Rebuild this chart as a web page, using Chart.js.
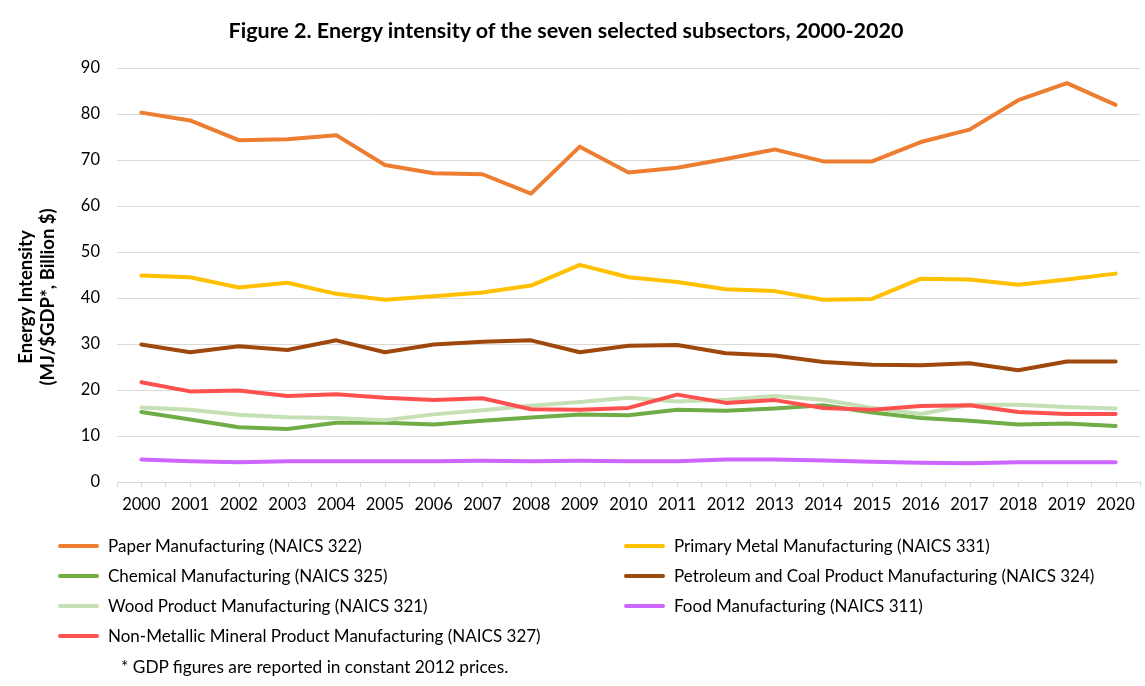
<!DOCTYPE html>
<html>
<head>
<meta charset="utf-8">
<script src="https://cdn.jsdelivr.net/npm/chart.js@4.4.0/dist/chart.umd.min.js"></script>
<style>
html,body{margin:0;padding:0;background:#fff;}
#wrap{position:relative;width:1145px;height:686px;overflow:hidden;font-family:Lato,"Open Sans",sans-serif;color:#000;}
#c{position:absolute;left:0;top:0;}
#title{position:absolute;left:0;top:16px;width:1132px;text-align:center;font-weight:bold;font-size:21.5px;line-height:28px;}
#ytitle{position:absolute;left:-114px;top:275px;width:300px;height:44px;text-align:center;font-weight:bold;font-size:18.5px;line-height:22px;transform:rotate(-90deg);white-space:nowrap;}
.li{position:absolute;height:20px;font-size:17px;line-height:20px;white-space:nowrap;}
.li span.sw{position:absolute;left:0;top:8px;width:41px;height:4px;border-radius:2px;}
.li span.tx{position:absolute;left:50px;top:0;}
#foot{position:absolute;left:121px;top:657px;font-size:17.3px;line-height:20px;white-space:nowrap;}
</style>
</head>
<body>
<div id="wrap">
<canvas id="c" width="1145" height="686"></canvas>
<div id="title">Figure 2. Energy intensity of the seven selected subsectors, 2000-2020</div>
<div id="ytitle">Energy Intensity<br>(MJ/$GDP*, Billion $)</div>
<div id="legend"></div>
<div id="foot">* GDP figures are reported in constant 2012 prices.</div>
</div>
<script>
const years = ["2000","2001","2002","2003","2004","2005","2006","2007","2008","2009","2010","2011","2012","2013","2014","2015","2016","2017","2018","2019","2020"];
const yTicks = [0,10,20,30,40,50,60,70,80,90];

const seriesNames = [
  "Paper Manufacturing (NAICS 322)",
  "Primary Metal Manufacturing (NAICS 331)",
  "Chemical Manufacturing (NAICS 325)",
  "Petroleum and Coal Product Manufacturing (NAICS 324)",
  "Wood Product Manufacturing (NAICS 321)",
  "Food Manufacturing (NAICS 311)",
  "Non-Metallic Mineral Product Manufacturing (NAICS 327)"
];
const paper      = [80.3,78.6,74.3,74.5,75.4,68.9,67.1,66.9,62.7,72.9,67.3,68.3,70.2,72.3,69.7,69.7,73.9,76.6,83.0,86.7,82.0];
const primaryMetal = [44.9,44.5,42.3,43.3,40.9,39.6,40.4,41.2,42.7,47.2,44.5,43.5,41.9,41.5,39.6,39.8,44.2,44.0,42.9,44.0,45.3];
const chemical   = [15.2,13.6,11.9,11.5,12.9,12.9,12.5,13.3,14.0,14.7,14.5,15.7,15.5,16.0,16.7,15.1,13.9,13.3,12.5,12.7,12.2];
const petroleum  = [29.9,28.2,29.5,28.7,30.8,28.2,29.9,30.5,30.8,28.2,29.6,29.8,28.0,27.5,26.1,25.5,25.4,25.8,24.3,26.2,26.2];
const wood       = [16.2,15.7,14.6,14.1,13.9,13.4,14.7,15.6,16.6,17.4,18.3,17.5,17.9,18.7,17.9,16.1,14.8,16.8,16.8,16.3,16.0];
const food       = [4.9,4.5,4.3,4.5,4.5,4.5,4.5,4.6,4.5,4.6,4.5,4.5,4.9,4.9,4.7,4.4,4.2,4.1,4.3,4.3,4.3];
const nonMetallic= [21.7,19.7,19.9,18.7,19.1,18.3,17.8,18.2,15.8,15.7,16.1,19.0,17.2,17.8,16.1,15.7,16.5,16.7,15.2,14.8,14.8];

const seriesValues = [paper, primaryMetal, chemical, petroleum, wood, food, nonMetallic];
const seriesColors = ["#ED7D31","#FFC000","#70AD47","#9E480E","#C5E0B4","#CC66FF","#FF5050"];

const FONT = "Lato, 'Open Sans', sans-serif";

const datasets = seriesNames.map((n,i)=>({
  label:n,
  data:seriesValues[i],
  borderColor:seriesColors[i],
  backgroundColor:seriesColors[i],
  borderWidth:4,
  pointRadius:0,
  pointHoverRadius:0,
  tension:0,
  fill:false,
  borderCapStyle:'round',
  borderJoinStyle:'round',
  order:seriesNames.length - i
}));

const centerTicks = {
  id:'centerTicks',
  afterDraw(chart){
    const xs = chart.scales.x; const ctx = chart.ctx;
    ctx.save();
    ctx.strokeStyle = '#d9d9d9'; ctx.lineWidth = 1;
    ctx.beginPath();
    for(let i=0;i<years.length;i++){
      const px = Math.round(xs.getPixelForValue(i)) + 0.5;
      ctx.moveTo(px, xs.top); ctx.lineTo(px, xs.top + 5);
    }
    ctx.stroke();
    ctx.restore();
  }
};

new Chart(document.getElementById('c'), {
  type:'line',
  data:{labels:years, datasets},
  plugins:[centerTicks],
  options:{
    responsive:false,
    animation:false,
    events:[],
    layout:{padding:{top:68,left:0,right:5,bottom:164}},
    plugins:{legend:{display:false},title:{display:false},tooltip:{enabled:false}},
    scales:{
      x:{
        type:'category',
        offset:true,
        afterFit(s){ s.height = 40; },
        grid:{offset:true,drawOnChartArea:false,drawTicks:true,tickLength:5,color:'#d9d9d9',lineWidth:1},
        border:{display:true,color:'#d9d9d9',width:1},
        ticks:{color:'#000',font:{family:FONT,size:16.5},padding:8,maxRotation:0,autoSkip:false}
      },
      y:{
        min:0,max:90,
        afterFit(s){ s.width = 117; },
        afterBuildTicks(s){ s.ticks = yTicks.map(v=>({value:v})); },
        grid:{color:'#d9d9d9',lineWidth:1,drawTicks:false},
        border:{display:false},
        ticks:{color:'#000',font:{family:FONT,size:16.5},padding:17}
      }
    }
  }
});

// legend (two columns, row-major order)
const leg = document.getElementById('legend');
const rowY = [536,566,596,626];
const colX = [58,624];
seriesNames.forEach((n,i)=>{
  const r = Math.floor(i/2), c = i%2;
  const d = document.createElement('div');
  d.className='li';
  d.style.left = colX[c]+'px';
  d.style.top = rowY[r]+'px';
  d.innerHTML = '<span class="sw" style="background:'+seriesColors[i]+'"></span><span class="tx"></span>';
  d.querySelector('.tx').textContent = n;
  leg.appendChild(d);
});
</script>
</body>
</html>
